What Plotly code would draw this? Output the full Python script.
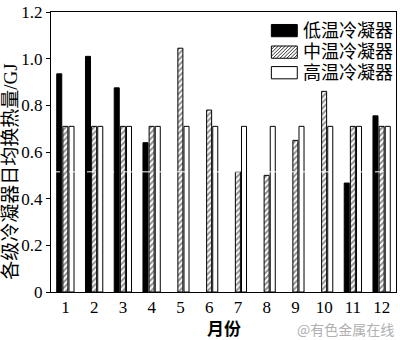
import plotly.graph_objects as go

months = [str(i) for i in range(1, 13)]
low_temp = [0.935, 1.01, 0.875, 0.64, None, None, None, None, None, None, 0.467, 0.755]
mid_temp = [0.71, 0.71, 0.71, 0.71, 1.045, 0.78, 0.515, 0.50, 0.65, 0.86, 0.71, 0.71]
high_temp = [0.71] * 12
series_names = ["低温冷凝器", "中温冷凝器", "高温冷凝器"]
y_ticks = [0, 0.2, 0.4, 0.6, 0.8, 1.0, 1.2]
y_ticktext = ["0", "0.2", "0.4", "0.6", "0.8", "1.0", "1.2"]

FONT = "Liberation Serif, Times New Roman, Noto Sans CJK SC"
W, H = 400, 340
ML, MR, MT, MB = 51, 3, 6, 48
PW, PH = W - ML - MR, H - MT - MB


def px_x(x):
    return (x - ML) / PW


def px_y(y):
    return (H - MB - y) / PH


fig = go.Figure()
fig.add_trace(go.Bar(x=months, y=low_temp, name=series_names[0], showlegend=False,
                     marker=dict(color="black", line=dict(color="black", width=1))))
fig.add_trace(go.Bar(x=months, y=mid_temp, name=series_names[1], showlegend=False,
                     marker=dict(color="white", line=dict(color="black", width=1),
                                 pattern=dict(shape="/", fgcolor="#222222", bgcolor="white",
                                              size=4, solidity=0.5))))
fig.add_trace(go.Bar(x=months, y=high_temp, name=series_names[2], showlegend=False,
                     marker=dict(color="white", line=dict(color="black", width=1))))

fig.update_layout(
    width=W, height=H,
    margin=dict(l=ML, r=MR, t=MT, b=MB),
    paper_bgcolor="white", plot_bgcolor="white",
    barmode="group", bargap=0.36, bargroupgap=0.18,
    font=dict(family=FONT, size=17, color="black"),
    showlegend=False,
    xaxis=dict(showline=True, linecolor="black", linewidth=1, mirror=True,
               ticks="", showgrid=False, tickfont=dict(size=17)),
    yaxis=dict(range=[0, 1.2001], tickvals=y_ticks, ticktext=y_ticktext,
               showline=True, linecolor="black", linewidth=1, mirror=True,
               ticks="outside", ticklen=4, tickcolor="black", showgrid=False,
               zeroline=False, tickfont=dict(size=17), ticklabeloverflow="allow"),
)

# manual legend (swatches in pixel layout, converted to paper coords)
sw_x0, sw_x1, sw_h = 272, 298, 12.5
rows_y = [25, 47, 68]
fills = ["black", "white", "white"]
for name, ry, fc in zip(series_names, rows_y, fills):
    y0, y1 = ry + sw_h / 2, ry - sw_h / 2
    fig.add_shape(type="rect", xref="paper", yref="paper",
                  x0=px_x(sw_x0), x1=px_x(sw_x1), y0=px_y(y0), y1=px_y(y1),
                  fillcolor=fc, line=dict(color="black", width=1))
    fig.add_annotation(text=name, xref="paper", yref="paper", x=px_x(302), y=px_y(ry),
                       xanchor="left", yanchor="middle", showarrow=False,
                       font=dict(size=18, family=FONT))

# hatch lines for the middle swatch
ry = rows_y[1]
w, h = sw_x1 - sw_x0, sw_h
path = ""
k = -h
while k < w:
    xa, xb = max(k, 0), min(k + h, w)
    if xb > xa:
        X0, Y0 = sw_x0 + xa, ry + h / 2 - (xa - k)
        X1, Y1 = sw_x0 + xb, ry + h / 2 - (xb - k)
        path += f"M{px_x(X0):.5f},{px_y(Y0):.5f}L{px_x(X1):.5f},{px_y(Y1):.5f}"
    k += 3.5
fig.add_shape(type="path", xref="paper", yref="paper", path=path,
              line=dict(color="black", width=0.8))

# axis titles
fig.add_annotation(text="各级冷凝器日均换热量/GJ", xref="paper", yref="paper",
                   x=px_x(10), y=px_y(169), xanchor="center", yanchor="middle", textangle=-90,
                   showarrow=False, font=dict(size=19, family=FONT))
fig.add_annotation(text="<b>月份</b>", xref="paper", yref="paper",
                   x=px_x(224), y=px_y(330), xanchor="center", yanchor="middle",
                   showarrow=False, font=dict(size=17, family=FONT))

fig.add_shape(type="line", xref="paper", yref="y", x0=0, x1=1, y0=0.515, y1=0.515,
              line=dict(color="white", width=1, dash="dash"), layer="above")

fig.add_annotation(text="@有色金属在线", xref="paper", yref="paper", x=1.0, y=px_y(330),
                   xanchor="right", yanchor="middle", showarrow=False,
                   font=dict(size=14, color="#b0b0b0", family="Noto Sans CJK SC"))

fig.write_html("out.html")
